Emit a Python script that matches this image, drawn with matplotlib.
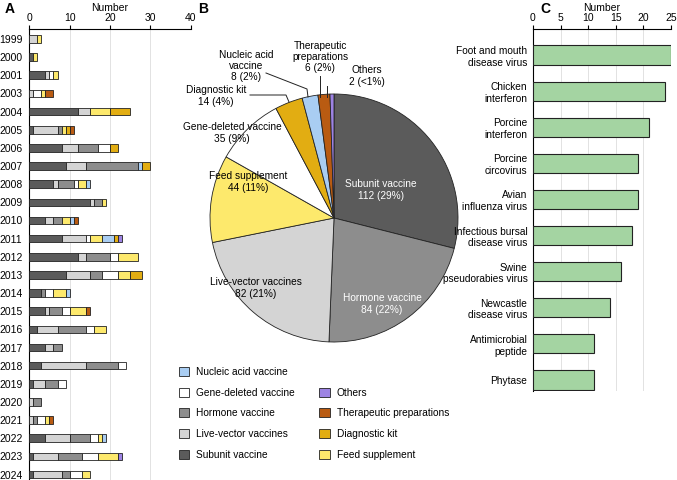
import numpy as np
import matplotlib as mpl
import matplotlib.pyplot as plt
from matplotlib.patches import Patch

mpl.rcParams.update({
    "font.family": ["Liberation Sans", "DejaVu Sans"],
    "font.size": 7.3,
    "axes.linewidth": 0.8,
})

# ---- panel A: products per year, stacked by type
years = ["1999", "2000", "2001", "2003", "2004", "2005", "2006", "2007", "2008",
         "2009", "2010", "2011", "2012", "2013", "2014", "2015", "2016", "2017",
         "2018", "2019", "2020", "2021", "2022", "2023", "2024"]
subunit = [0, 1, 4, 0, 12, 1, 8, 9, 6, 15, 4, 8, 12, 9, 3, 4, 2, 4, 3, 1, 0, 0, 4, 1, 1]
live_vector = [2, 0, 1, 1, 3, 6, 4, 5, 1, 1, 2, 6, 2, 6, 0, 1, 5, 2, 11, 3, 1, 1, 6, 6, 7]
hormone = [0, 0, 0, 0, 0, 1, 5, 13, 4, 2, 2, 0, 6, 3, 1, 3, 7, 2, 8, 3, 2, 1, 5, 6, 2]
gene_deleted = [0, 0, 1, 2, 0, 0, 3, 0, 1, 0, 0, 1, 2, 4, 2, 2, 2, 0, 2, 2, 0, 2, 2, 4, 3]
feed = [1, 1, 1, 1, 5, 1, 0, 0, 2, 1, 2, 3, 5, 3, 3, 4, 3, 0, 0, 0, 0, 1, 1, 5, 2]
nucleic = [0, 0, 0, 0, 0, 0, 0, 1, 1, 0, 1, 3, 0, 0, 1, 0, 0, 0, 0, 0, 0, 0, 1, 0, 0]
diagnostic = [0, 0, 0, 0, 5, 1, 2, 2, 0, 0, 0, 1, 0, 3, 0, 0, 0, 0, 0, 0, 0, 0, 0, 0, 0]
therapeutic = [0, 0, 0, 2, 0, 1, 0, 0, 0, 0, 1, 0, 0, 0, 0, 1, 0, 0, 0, 0, 0, 1, 0, 0, 0]
others = [0, 0, 0, 0, 0, 0, 0, 0, 0, 0, 0, 1, 0, 0, 0, 0, 0, 0, 0, 0, 0, 0, 0, 1, 0]

colors = {
    "Subunit vaccine": "#5b5b5b",
    "Live-vector vaccines": "#d4d4d4",
    "Hormone vaccine": "#8d8d8d",
    "Gene-deleted vaccine": "#ffffff",
    "Feed supplement": "#fde96c",
    "Nucleic acid vaccine": "#a9cdf2",
    "Diagnostic kit": "#e2ad12",
    "Therapeutic preparations": "#b95b12",
    "Others": "#9d83e3",
}
stack = [("Subunit vaccine", subunit), ("Live-vector vaccines", live_vector),
         ("Hormone vaccine", hormone), ("Gene-deleted vaccine", gene_deleted),
         ("Feed supplement", feed), ("Nucleic acid vaccine", nucleic),
         ("Diagnostic kit", diagnostic), ("Therapeutic preparations", therapeutic),
         ("Others", others)]

# ---- panel B: pie of all products
pie_names = ["Subunit vaccine", "Hormone vaccine", "Live-vector vaccines", "Feed supplement",
             "Gene-deleted vaccine", "Diagnostic kit", "Nucleic acid vaccine",
             "Therapeutic preparations", "Others"]
pie_texts = ["Subunit vaccine", "Hormone vaccine", "Live-vector vaccines", "Feed supplement",
             "Gene-deleted vaccine", "Diagnostic kit", "Nucleic acid\nvaccine",
             "Therapeutic\npreparations", "Others"]
pie_counts = [112, 84, 82, 44, 35, 14, 8, 6, 2]
pie_pcts = ["29%", "22%", "21%", "11%", "9%", "4%", "2%", "2%", "<1%"]

# ---- panel C: top targets
targets = ["Foot and mouth\ndisease virus", "Chicken\ninterferon", "Porcine\ninterferon",
           "Porcine\ncircovirus", "Avian\ninfluenza virus", "Infectious bursal\ndisease virus",
           "Swine\npseudorabies virus", "Newcastle\ndisease virus", "Antimicrobial\npeptide",
           "Phytase"]
target_counts = [25, 24, 21, 19, 19, 18, 16, 14, 11, 11]

W, H = 677, 480
fig = plt.figure(figsize=(W / 100, H / 100), dpi=100)


def px_axes(x0, y0, x1, y1):
    return fig.add_axes([x0 / W, 1 - y1 / H, (x1 - x0) / W, (y1 - y0) / H])


def top_axis(ax, ticks, xmax):
    ax.set_xlim(0, xmax)
    ax.xaxis.tick_top()
    ax.xaxis.set_label_position("top")
    ax.set_xticks(ticks)
    ax.set_xlabel("Number", fontsize=7.5, labelpad=1)
    ax.tick_params(axis="x", length=3, width=0.8, pad=1.5, labelsize=7.5)
    ax.spines["right"].set_visible(False)
    ax.spines["bottom"].set_visible(False)
    ax.grid(axis="x", color="#e2e2e2", linewidth=0.7, zorder=0)
    ax.set_axisbelow(True)


# A
axA = px_axes(29.3, 29, 190.6, 480)
yy = np.arange(len(years))
left = np.zeros(len(years))
for name, vals in stack:
    vals = np.array(vals, dtype=float)
    m = vals > 0
    axA.barh(yy[m], vals[m], left=left[m], height=0.42, color=colors[name],
             edgecolor="#222222", linewidth=0.6, zorder=3)
    left += vals
axA.set_ylim(24.3, -0.55)
axA.set_yticks(yy)
axA.set_yticklabels(years, fontsize=7.5)
axA.tick_params(axis="y", length=0, pad=5)
top_axis(axA, [0, 10, 20, 30, 40], 40)

# B
axB = px_axes(150, 0, 520, 480)
cx, cy, r = 334, H - 218, 124
axB.pie(pie_counts, colors=[colors[n] for n in pie_names], startangle=90,
        counterclock=False, center=(cx, cy), radius=r,
        wedgeprops=dict(edgecolor="#222222", linewidth=0.6))
axB.set_xlim(150, 520)
axB.set_ylim(0, H)
axB.axis("off")

label_pos = [(381, 190, "white"), (382, 304, "white"), (256, 288, "black"),
             (248, 182, "black"), (232, 133, "black"), (216, 96, "black"),
             (246, 66, "black"), (320, 57, "black"), (367, 76, "black")]
for txt, n, p, (x, y, c) in zip(pie_texts, pie_counts, pie_pcts, label_pos):
    axB.text(x, H - y, f"{txt}\n{n} ({p})", ha="center", va="center", color=c,
             fontsize=7.3, linespacing=1.15)

leaders = [[(250, 95), (286, 95), (289, 102)],
           [(266, 73), (307, 89), (308, 97)],
           [(320, 76), (320, 97)],
           [(327, 86), (327, 97)]]
for pts in leaders:
    xs, ys = zip(*pts)
    axB.plot(xs, [H - v for v in ys], color="#222222", linewidth=0.7)

leg_names = ["Nucleic acid vaccine", "Gene-deleted vaccine", "Hormone vaccine",
             "Live-vector vaccines", "Subunit vaccine", None, "Others",
             "Therapeutic preparations", "Diagnostic kit", "Feed supplement"]
handles, labels = [], []
for n in leg_names:
    if n is None:
        handles.append(Patch(facecolor="none", edgecolor="none"))
        labels.append("")
    else:
        handles.append(Patch(facecolor=colors[n], edgecolor="#222222", linewidth=0.6))
        labels.append(n)
fig.legend(handles, labels, ncol=2, loc="upper left", bbox_to_anchor=(174 / W, 1 - 362 / H),
           frameon=False, handlelength=1.0, handleheight=1.0, handletextpad=0.7,
           labelspacing=1.05, columnspacing=2.4, fontsize=7.3, borderpad=0)

# C
axC = px_axes(533, 29, 671, 390.5)
yc = np.arange(len(targets))
axC.barh(yc, target_counts, height=0.53, color="#a4d4a2", edgecolor="#222222",
         linewidth=0.8, zorder=3)
axC.set_ylim(9.29, -0.72)
axC.set_yticks(yc)
axC.set_yticklabels(targets, fontsize=7.3, ha="right", multialignment="right")
axC.tick_params(axis="y", length=0, pad=4)
top_axis(axC, [0, 5, 10, 15, 20, 25], 25)

for x, y, s in [(5, 9, "A"), (198, 9, "B"), (540, 9, "C")]:
    fig.text(x / W, 1 - y / H, s, fontsize=10, fontweight="bold", va="center", ha="left")

fig.savefig("out.png", dpi=100)
